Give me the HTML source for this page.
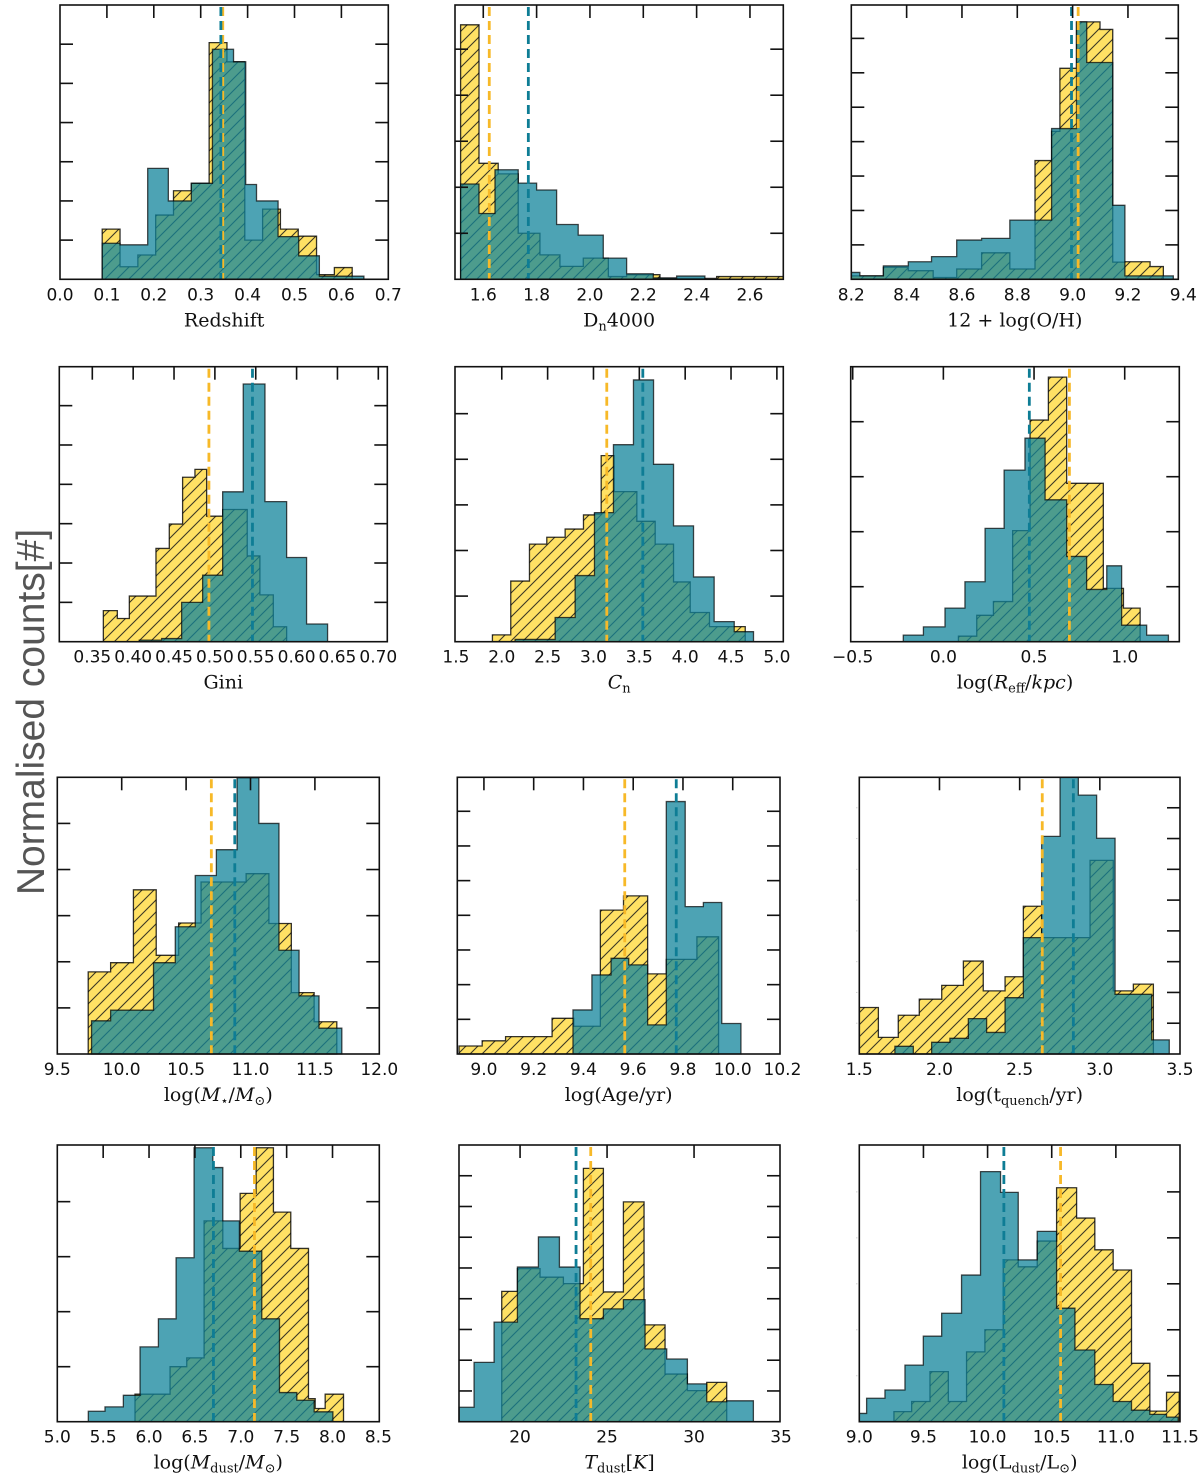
<!DOCTYPE html>
<html><head><meta charset="utf-8"><title>Histograms</title>
<style>
html,body{margin:0;padding:0;background:#fff;}
svg{display:block;}
.tl{font-family:"DejaVu Sans","Liberation Sans",sans-serif;font-size:17px;fill:#111;}
.ti{font-family:"DejaVu Serif","Liberation Serif",serif;font-size:19px;fill:#111;}
</style></head>
<body>
<svg id="fig" width="1200" height="1482" viewBox="0 0 1200 1482" xmlns="http://www.w3.org/2000/svg">
<defs>
<pattern id="hatch" patternUnits="userSpaceOnUse" width="12" height="12">
<path d="M-3,3 L3,-3 M0,12 L12,0 M9,15 L15,9" stroke="#1a1a1a" stroke-width="1.1" stroke-opacity="0.85"/>
</pattern>
</defs>
<text x="0" y="0" transform="translate(44,712) rotate(-90)" text-anchor="middle" font-family="Liberation Sans, sans-serif" font-size="39" fill="#555">Normalised counts[#]</text>
<g id="panels"></g>
</svg>
<script>
// ---- data ----
const redshiftYEdges=[0.090,0.128,0.166,0.204,0.242,0.280,0.318,0.356,0.394,0.432,0.470,0.508,0.547,0.585,0.623];
const redshiftYCounts=[1.28,0.32,0.62,1.64,2.26,2.45,6.04,5.55,1.0,1.79,1.28,1.1,0.12,0.3];
const redshiftTEdges=[0.090,0.128,0.187,0.231,0.280,0.325,0.370,0.396,0.419,0.465,0.509,0.553,0.648];
const redshiftTCounts=[0.92,0.88,2.83,2.0,2.45,5.87,5.55,2.42,2.0,1.09,0.6,0.08];
const redshiftMedians=[0.347,0.343];
const redshiftTicks=["0.0","0.1","0.2","0.3","0.4","0.5","0.6","0.7"];

const dnYEdges=[1.515,1.584,1.656,1.731,1.8125,1.8875,1.975,2.069,2.1375,2.2625,2.475,2.725];
const dnYCounts=[5.53,2.52,2.29,1.0,0.53,0.28,0.46,0.06,0.1,0.02,0.06];
const dnTEdges=[1.515,1.584,1.644,1.731,1.8,1.875,1.956,2.05,2.1375,2.2375,2.325,2.431];
const dnTCounts=[2.07,1.43,2.38,2.09,1.94,1.19,0.96,0.46,0.12,0.03,0.07];
const dnMedians=[1.6225,1.769];
const dnTicks=["1.6","1.8","2.0","2.2","2.4","2.6"];

const ohYEdges=[8.2,8.316,8.406,8.496,8.581,8.671,8.773,8.864,8.924,8.954,9.014,9.099,9.145,9.189,9.280,9.328];
const ohYCounts=[0.1,0.35,0.25,0.05,0.3,0.77,0.3,3.45,4.3,6.13,7.48,7.26,0.5,0.51,0.37];
const ohTEdges=[8.2,8.231,8.316,8.406,8.490,8.581,8.671,8.773,8.846,8.924,9.014,9.051,9.145,9.189,9.364];
const ohTCounts=[0.2,0.1,0.39,0.51,0.66,1.14,1.19,1.72,1.72,4.38,7.48,6.3,2.15,0.1];
const ohMedians=[9.02,8.996];
const ohTicks=["8.2","8.4","8.6","8.8","9.0","9.2","9.4"];

const giniYEdges=[0.3635,0.3806,0.3953,0.4279,0.4442,0.4605,0.4756,0.4899,0.5095,0.5396,0.5551,0.5715,0.5878];
const giniYCounts=[0.79,0.59,1.16,2.37,2.99,4.18,4.38,3.19,3.36,2.18,1.19,0.38];
const giniTEdges=[0.4075,0.4348,0.4593,0.485,0.5095,0.5347,0.5613,0.5878,0.6122,0.6379];
const giniTCounts=[0.04,0.08,1.0,1.69,3.81,6.55,3.56,2.14,0.45];
const giniMedians=[0.4927,0.546];
const giniTicks=["0.35","0.40","0.45","0.50","0.55","0.60","0.65","0.70"];

const cnYEdges=[1.898,2.098,2.302,2.491,2.691,2.891,3.011,3.084,3.225,3.473,3.673,3.873,4.055,4.265,4.655];
const cnYCounts=[0.15,1.33,2.14,2.29,2.47,2.78,2.8,4.08,3.29,2.64,2.14,1.31,0.64,0.33];
const cnTEdges=[2.145,2.582,2.8,3.011,3.218,3.436,3.655,3.873,4.091,4.316,4.535,4.745];
const cnTCounts=[0.05,0.53,1.45,2.83,4.32,5.74,3.89,2.54,1.42,0.44,0.22];
const cnMedians=[3.145,3.538];
const cnTicks=["1.5","2.0","2.5","3.0","3.5","4.0","4.5","5.0"];

const reffYEdges=[0.083,0.184,0.276,0.382,0.478,0.579,0.680,0.882,0.993,1.085];
const reffYCounts=[0.1,0.48,0.73,2.02,4.03,4.81,2.88,0.97,0.61];
const reffTEdges=[-0.221,-0.110,0.009,0.119,0.230,0.335,0.450,0.561,0.680,0.790,0.901,0.983,1.121,1.241];
const reffTCounts=[0.12,0.27,0.61,1.09,2.06,3.12,3.7,2.58,1.55,0.95,1.38,0.3,0.12];
const reffMedians=[0.695,0.474];
const reffTicks=["\u22120.5","0.0","0.5","1.0"];

const mstarYEdges=[9.740,9.914,10.091,10.268,10.442,10.616,10.792,10.966,11.143,11.317,11.494,11.670];
const mstarYCounts=[1.78,1.98,3.56,2.14,2.84,3.73,3.73,3.91,2.83,1.33,0.7];
const mstarTEdges=[9.766,9.914,10.247,10.416,10.571,10.735,10.896,11.065,11.221,11.377,11.532,11.709];
const mstarTCounts=[0.72,0.95,1.98,2.76,3.87,4.43,5.99,5.0,2.25,1.26,0.56];
const mstarMedians=[10.696,10.878];
const mstarTicks=["9.5","10.0","10.5","11.0","11.5","12.0"];

const ageYEdges=[8.900,8.993,9.087,9.180,9.274,9.361,9.468,9.561,9.658,9.733,9.856,9.943];
const ageYCounts=[0.23,0.38,0.5,0.5,1.03,0.8,4.15,4.56,2.31,2.73,3.38];
const ageTEdges=[9.358,9.434,9.511,9.582,9.658,9.733,9.809,9.882,9.956,10.033];
const ageTCounts=[1.27,2.28,2.76,2.57,0.84,7.28,4.25,4.37,0.88];
const ageMedians=[9.566,9.773];
const ageTicks=["9.0","9.2","9.4","9.6","9.8","10.0","10.2"];

const tqYEdges=[1.5,1.619,1.743,1.874,2.014,2.149,2.273,2.409,2.523,2.637,2.762,2.939,3.084,3.209,3.334];
const tqYCounts=[1.51,0.54,1.26,1.78,2.23,3.02,2.05,2.51,4.8,3.78,3.78,6.29,2.05,2.27];
const tqTEdges=[1.722,1.837,1.951,2.065,2.180,2.294,2.409,2.523,2.637,2.752,2.866,2.980,3.095,3.323,3.433];
const tqTCounts=[0.25,0,0.38,0.51,1.15,0.7,1.83,3.78,7.07,8.99,8.41,7.01,1.94,0.46];
const tqMedians=[2.641,2.835];
const tqTicks=["1.5","2.0","2.5","3.0","3.5"];

const mdustYEdges=[5.847,6.229,6.411,6.6,6.804,6.993,7.167,7.356,7.545,7.738,7.811,7.92,8.12];
const mdustYCounts=[0.5,1.0,1.16,3.65,3.15,4.15,4.98,3.81,3.15,0.42,0.24,0.5];
const mdustTEdges=[5.338,5.52,5.72,5.902,6.102,6.295,6.491,6.695,6.804,6.985,7.229,7.422,7.611,7.8,8.004];
const mdustTCounts=[0.19,0.27,0.48,1.36,1.87,2.98,4.98,4.62,3.65,3.1,1.87,0.53,0.39,0.18];
const mdustMedians=[7.149,6.702];
const mdustTicks=["5.0","5.5","6.0","6.5","7.0","7.5","8.0","8.5"];

const tdustYEdges=[18.946,19.847,21.149,22.490,23.640,24.789,25.939,27.126,28.333,29.617,30.728,31.877];
const tdustYCounts=[4.24,4.98,4.7,4.49,8.24,4.22,7.15,3.15,1.55,1.01,1.28];
const tdustTEdges=[16.494,17.356,18.506,19.847,21.054,22.261,23.448,24.789,25.939,27.184,28.429,29.617,30.728,31.877,33.410];
const tdustTCounts=[0.47,1.93,3.24,5.03,6.01,5.03,3.35,3.67,3.97,2.37,2.04,1.23,0.65,0.68];
const tdustMedians=[24.061,23.218];
const tdustTicks=["20","25","30","35"];

const ldustYEdges=[9.270,9.408,9.551,9.694,9.836,9.979,10.122,10.239,10.387,10.538,10.694,10.836,10.979,11.122,11.265,11.395,11.494];
const ldustYCounts=[0.22,0.44,1.09,0.44,1.52,2.0,3.52,3.37,3.93,5.09,4.43,3.74,3.3,1.27,0.23,0.64];
const ldustTEdges=[9.0,9.057,9.2,9.356,9.499,9.642,9.797,9.945,10.101,10.239,10.387,10.538,10.681,10.836,10.979,11.122,11.265,11.395,11.486];
const ldustTCounts=[0.18,0.51,0.69,1.23,1.86,2.36,3.19,5.44,4.99,3.52,4.14,2.47,1.56,0.81,0.44,0.25,0.16,0.1];
const ldustMedians=[10.569,10.127];
const ldustTicks=["9.0","9.5","10.0","10.5","11.0","11.5"];

// ---- layout (pixel boxes, axis limits) ----
const panels=[
 {name:"redshift",box:[60,5,388.3,279.3],xlim:[0,0.7],ymax:7.0,ye:redshiftYEdges,yc:redshiftYCounts,te:redshiftTEdges,tc:redshiftTCounts,med:redshiftMedians,ticks:redshiftTicks,title:'Redshift'},
 {name:"dn4000",box:[455,5,783.3,279.3],xlim:[1.494,2.725],ymax:5.96,ye:dnYEdges,yc:dnYCounts,te:dnTEdges,tc:dnTCounts,med:dnMedians,ticks:dnTicks,title:'D<tspan font-size="13" dy="4">n</tspan><tspan dy="-4">4000</tspan>'},
 {name:"metallicity",box:[851.3,5,1178.3,279.3],xlim:[8.2,9.382],ymax:7.97,ye:ohYEdges,yc:ohYCounts,te:ohTEdges,tc:ohTCounts,med:ohMedians,ticks:ohTicks,title:'12 + log(O/H)'},
 {name:"gini",box:[59.3,366.7,387.3,641.7],xlim:[0.3096,0.711],ymax:6.99,ye:giniYEdges,yc:giniYCounts,te:giniTEdges,tc:giniTCounts,med:giniMedians,ticks:giniTicks,title:'Gini'},
 {name:"concentration",box:[455,366.7,783.3,641.7],xlim:[1.49,5.07],ymax:6.03,ye:cnYEdges,yc:cnYCounts,te:cnTEdges,tc:cnTCounts,med:cnMedians,ticks:cnTicks,title:'<tspan font-style="italic">C</tspan><tspan font-size="13" dy="4">n</tspan>'},
 {name:"reff",box:[850.7,366.7,1179.3,641.7],xlim:[-0.511,1.301],ymax:5.0,ye:reffYEdges,yc:reffYCounts,te:reffTEdges,tc:reffTCounts,med:reffMedians,ticks:reffTicks,title:'log(<tspan font-style="italic">R</tspan><tspan font-size="13" dy="4">eff</tspan><tspan dy="-4">/</tspan><tspan font-style="italic">kpc</tspan>)'},
 {name:"stellar-mass",box:[57.3,777.3,379.3,1054],xlim:[9.5,12.0],ymax:6.0,ye:mstarYEdges,yc:mstarYCounts,te:mstarTEdges,tc:mstarTCounts,med:mstarMedians,ticks:mstarTicks,title:'log(<tspan font-style="italic">M</tspan><tspan font-size="13" dy="4">\u22c6</tspan><tspan dy="-4">/</tspan><tspan font-style="italic">M</tspan><tspan font-size="13" dy="4">\u2299</tspan><tspan dy="-4">)</tspan>'},
 {name:"age",box:[457.3,777.3,780,1054],xlim:[8.893,10.19],ymax:7.98,ye:ageYEdges,yc:ageYCounts,te:ageTEdges,tc:ageTCounts,med:ageMedians,ticks:ageTicks,title:'log(Age/yr)'},
 {name:"t-quench",box:[859.3,777.3,1180,1054],xlim:[1.5,3.5],ymax:8.99,ye:tqYEdges,yc:tqYCounts,te:tqTEdges,tc:tqTCounts,med:tqMedians,ticks:tqTicks,title:'log(t<tspan font-size="13" dy="4">quench</tspan><tspan dy="-4">/yr)</tspan>',faintLeft:true},
 {name:"dust-mass",box:[57.3,1145,379.3,1421.7],xlim:[5.0,8.51],ymax:5.03,ye:mdustYEdges,yc:mdustYCounts,te:mdustTEdges,tc:mdustTCounts,med:mdustMedians,ticks:mdustTicks,title:'log(<tspan font-style="italic">M</tspan><tspan font-size="13" dy="4">dust</tspan><tspan dy="-4">/</tspan><tspan font-style="italic">M</tspan><tspan font-size="13" dy="4">\u2299</tspan><tspan dy="-4">)</tspan>'},
 {name:"dust-temperature",box:[459,1145,780,1421.7],xlim:[16.49,34.94],ymax:9.0,ye:tdustYEdges,yc:tdustYCounts,te:tdustTEdges,tc:tdustTCounts,med:tdustMedians,ticks:tdustTicks,title:'<tspan font-style="italic">T</tspan><tspan font-size="13" dy="4">dust</tspan><tspan dy="-4">[</tspan><tspan font-style="italic">K</tspan>]'},
 {name:"dust-luminosity",box:[859.3,1145,1180,1421.7],xlim:[9.0,11.5],ymax:6.02,ye:ldustYEdges,yc:ldustYCounts,te:ldustTEdges,tc:ldustTCounts,med:ldustMedians,ticks:ldustTicks,title:'log(L<tspan font-size="13" dy="4">dust</tspan><tspan dy="-4">/L</tspan><tspan font-size="13" dy="4">\u2299</tspan><tspan dy="-4">)</tspan>',faintLeft:true}
];

const NS="http://www.w3.org/2000/svg";
const root=document.getElementById('panels');
function mk(tag,attrs,parent){const e=document.createElementNS(NS,tag);for(const k in attrs)e.setAttribute(k,attrs[k]);parent.appendChild(e);return e;}

panels.forEach(p=>{
  const [L,T,R,B]=p.box;
  const xs=v=>L+(v-p.xlim[0])/(p.xlim[1]-p.xlim[0])*(R-L);
  const ys=v=>B-v/p.ymax*(B-T);
  const g=mk('g',{},root);
  
  
  function histPath(edges,counts){
    let d='M'+xs(edges[0]).toFixed(2)+','+B;
    for(let i=0;i<counts.length;i++){
      d+=' L'+xs(edges[i]).toFixed(2)+','+ys(counts[i]).toFixed(2)+' L'+xs(edges[i+1]).toFixed(2)+','+ys(counts[i]).toFixed(2);
    }
    d+=' L'+xs(edges[edges.length-1]).toFixed(2)+','+B+' Z';
    return d;
  }
  const yd=histPath(p.ye,p.yc);
  const yf=mk('path',{d:yd,fill:'#ffe164',stroke:'none'},g);
  
  
  const yh=mk('path',{d:yd,fill:'url(#hatch)',stroke:'rgba(0,0,0,0.8)','stroke-width':'1.3'},g);
  
  
  const tp=mk('path',{d:histPath(p.te,p.tc),fill:'rgba(17,132,155,0.75)',stroke:'rgba(0,0,0,0.7)','stroke-width':'1.3'},g);
  
  
  const cols=['#f7b928','#0e7d95'];
  p.med.forEach((m,i)=>{
    const ln=mk('line',{x1:xs(m),x2:xs(m),y1:T+2,y2:B,stroke:cols[i],'stroke-width':'2.8','stroke-dasharray':'9,5'},g);
    
    
  });
  const fr=mk('rect',{x:L,y:T,width:R-L,height:B-T,fill:'none',stroke:'#111','stroke-width':'1.6'},g);
  
  
  for(let k=1;k<p.ymax-0.05;k++){
    const y=ys(k);
    mk('line',{x1:R,x2:R-13,y1:y,y2:y,stroke:'#111','stroke-width':'1.6'},g);
    if(p.faintLeft) mk('line',{x1:L-3,x2:L-2,y1:y,y2:y,stroke:'#bbb','stroke-width':'1'},g);
    else mk('line',{x1:L,x2:L+13,y1:y,y2:y,stroke:'#111','stroke-width':'1.6'},g);
  }
  p.ticks.forEach(t=>{
    const v=parseFloat(t.replace('\u2212','-'));
    const x=xs(v);
    if(x>L+1&&x<R-1) mk('line',{x1:x,x2:x,y1:T,y2:T+13,stroke:'#111','stroke-width':'1.6'},g);
    const tx=mk('text',{x:x,y:B+21,'text-anchor':'middle',class:'tl'},g);
    tx.textContent=t;
    
    
  });
  const ti=mk('text',{x:(L+R)/2,y:B+47,'text-anchor':'middle',class:'ti'},g);
  ti.innerHTML=p.title;
  
  
});
</script>
</body></html>
